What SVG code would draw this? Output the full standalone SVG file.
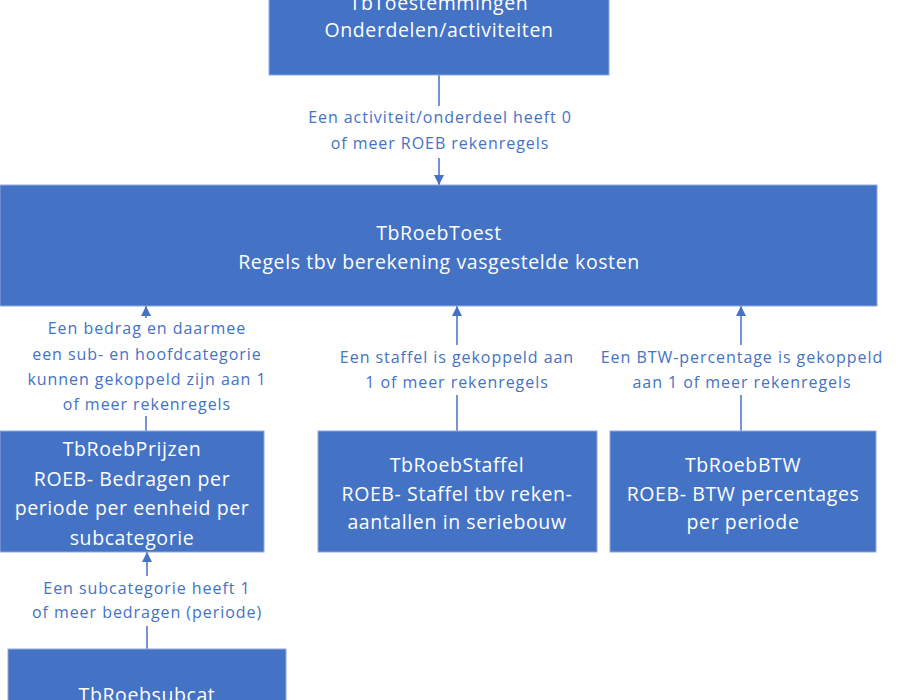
<svg xmlns="http://www.w3.org/2000/svg" width="900" height="700" viewBox="0 0 900 700">
<defs>
<style>
.box{fill:#4472C4;stroke:#8FAADC;stroke-width:1}
.bt{fill:#ffffff;font-family:"Open Sans","Liberation Sans",Arial,sans-serif;font-size:19.5px;letter-spacing:0.6px;text-anchor:middle;dominant-baseline:central}
.lt{fill:#4472C4;font-family:"Open Sans","Liberation Sans",Arial,sans-serif;font-size:16px;letter-spacing:0.95px;text-anchor:middle;dominant-baseline:central}
.ln{stroke:#4472C4;stroke-width:1.5;fill:none}
</style>
<marker id="ah" viewBox="0 0 10 10" refX="10" refY="5" markerWidth="10" markerHeight="10" markerUnits="userSpaceOnUse" orient="auto">
<path d="M0,0 L10,5 L0,10 z" fill="#4472C4"/>
</marker>
</defs>
<rect width="900" height="700" fill="#ffffff"/>
<g id="connectors">
<path class="ln" d="M439,75 V106"/>
<path class="ln" d="M439,158 V185" marker-end="url(#ah)"/>
<text class="lt" x="440" y="117">Een activiteit/onderdeel heeft 0</text>
<text class="lt" x="440" y="143">of meer ROEB rekenregels</text>

<path class="ln" d="M146,431 V416"/>
<path class="ln" d="M146,318 V306" marker-end="url(#ah)"/>
<text class="lt" x="147" y="328">Een bedrag en daarmee</text>
<text class="lt" x="147" y="354">een sub- en hoofdcategorie</text>
<text class="lt" x="147" y="379">kunnen gekoppeld zijn aan 1</text>
<text class="lt" x="147" y="404">of meer rekenregels</text>

<path class="ln" d="M457,431 V395"/>
<path class="ln" d="M457,345 V306" marker-end="url(#ah)"/>
<text class="lt" x="457" y="357">Een staffel is gekoppeld aan</text>
<text class="lt" x="457" y="382">1 of meer rekenregels</text>

<path class="ln" d="M741,431 V395"/>
<path class="ln" d="M741,345 V306" marker-end="url(#ah)"/>
<text class="lt" x="742" y="357">Een BTW-percentage is gekoppeld</text>
<text class="lt" x="742" y="382">aan 1 of meer rekenregels</text>

<path class="ln" d="M147,649 V626"/>
<path class="ln" d="M147,576 V552" marker-end="url(#ah)"/>
<text class="lt" x="147" y="588">Een subcategorie heeft 1</text>
<text class="lt" x="147" y="612">of meer bedragen (periode)</text>
</g>
<g id="n-toestemmingen">
<rect class="box" x="269" y="-50" width="340" height="125"/>
<text class="bt" x="439" y="2">TbToestemmingen</text>
<text class="bt" x="439" y="29">Onderdelen/activiteiten</text>
</g>
<g id="n-roebtoest">
<rect class="box" x="0" y="185" width="877" height="121"/>
<text class="bt" x="439" y="232">TbRoebToest</text>
<text class="bt" x="439" y="261">Regels tbv berekening vasgestelde kosten</text>
</g>
<g id="n-prijzen">
<rect class="box" x="0" y="431" width="264" height="121"/>
<text class="bt" x="132" y="448">TbRoebPrijzen</text>
<text class="bt" x="132" y="478">ROEB- Bedragen per</text>
<text class="bt" x="132" y="507">periode per eenheid per</text>
<text class="bt" x="132" y="537">subcategorie</text>
</g>
<g id="n-staffel">
<rect class="box" x="318" y="431" width="279" height="121"/>
<text class="bt" x="457" y="464">TbRoebStaffel</text>
<text class="bt" x="457" y="493">ROEB- Staffel tbv reken-</text>
<text class="bt" x="457" y="521">aantallen in seriebouw</text>
</g>
<g id="n-btw">
<rect class="box" x="610" y="431" width="266" height="121"/>
<text class="bt" x="743" y="464">TbRoebBTW</text>
<text class="bt" x="743" y="493">ROEB- BTW percentages</text>
<text class="bt" x="743" y="521">per periode</text>
</g>
<g id="n-subcat">
<rect class="box" x="8" y="649" width="278" height="80"/>
<text class="bt" x="147" y="694">TbRoebsubcat</text>
</g>
</svg>
